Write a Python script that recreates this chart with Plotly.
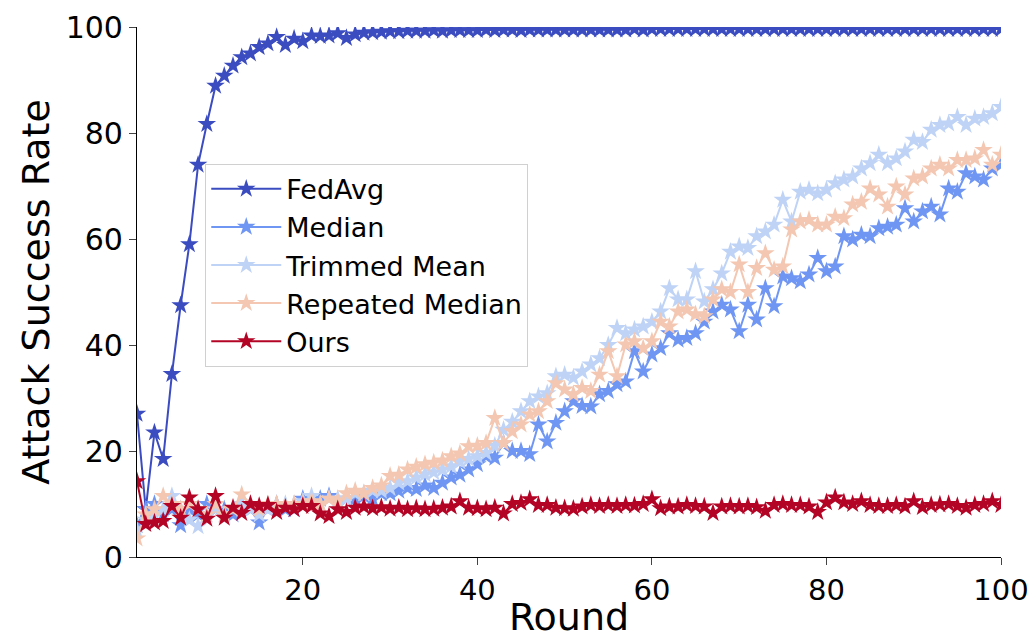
import plotly.graph_objects as go

rounds = list(range(1, 101))

fedavg = [27, 9, 23.5, 18.5, 34.5, 47.5, 59, 74, 81.7, 88.9,
          90.8, 92.7, 94.3, 95, 96.2, 96.9, 98.1, 96.6, 97.8, 97.3,
          98.4, 98.3, 98.4, 98.8, 97.9, 98.6, 98.9, 99.0, 99.1, 99.2,
          99.2, 99.3, 99.3, 99.3, 99.4, 99.3, 99.4, 99.4, 99.4, 99.4,
          99.5, 99.4, 99.5, 99.5, 99.4, 99.5, 99.5, 99.5, 99.5, 99.5,
          99.5, 99.5, 99.5, 99.5, 99.5, 99.5, 99.5, 99.6, 99.5, 99.6,
          99.6, 99.6, 99.6, 99.6, 99.6, 99.6, 99.6, 99.6, 99.6, 99.6,
          99.6, 99.6, 99.6, 99.6, 99.6, 99.6, 99.6, 99.6, 99.6, 99.6,
          99.6, 99.6, 99.6, 99.6, 99.6, 99.6, 99.6, 99.6, 99.6, 99.6,
          99.6, 99.6, 99.6, 99.6, 99.6, 99.6, 99.6, 99.6, 99.6, 99.6]

median = [6, 9, 10, 8, 9, 6, 9, 8, 10, 9,
          9, 8, 10, 9, 6.5, 9, 10, 9, 9, 11,
          10, 11, 11.5, 10.5, 11, 11, 11.5, 11, 12, 12,
          12.5, 13, 12.8, 13.5, 13, 14, 15, 15.5, 16.5, 17.5,
          19, 18.7, 21.5, 20, 20, 19.4, 25, 21.8, 25.3, 27.5,
          29.4, 28.5, 28.4, 30.7, 31.3, 32.6, 33.1, 38.8, 35, 38.2,
          39.4, 42.2, 41, 41.3, 42.2, 44.4, 46.3, 47.6, 46.7, 42.6,
          47.6, 44.8, 50.7, 47.3, 52.9, 52.6, 52, 53.3, 56.4, 53.9,
          54.8, 60.5, 59.9, 60.8, 60.5, 62, 62.3, 62.7, 65.8, 63.3,
          65.2, 66.1, 64.6, 69.5, 68.9, 72.4, 71.8, 71.2, 73.3, 74]

trimmed_mean = [5, 7, 8, 9, 11.5, 9, 7, 5.8, 8, 9,
                8, 9, 10, 9, 8, 9, 10, 10, 10, 10.5,
                11.5, 10, 11, 11, 11, 12, 12, 12.5, 12.5, 13,
                14, 14.3, 15, 15.6, 16, 16.5, 17.1, 18, 18.5, 19,
                19.6, 21, 24, 25.5, 27.5, 29.4, 30.3, 30.9, 34.1, 34.4,
                33.8, 35, 36.3, 37.5, 40, 43.2, 42.2, 42.9, 43.5, 44.4,
                46.3, 50.7, 48.6, 48.6, 53.9, 48.2, 50.5, 53.5, 57.6, 58.6,
                58.3, 60.5, 61.4, 62.7, 67.4, 63.3, 68.9, 69.3, 68.6, 69.3,
                70.5, 71.2, 71.8, 73.3, 74.3, 75.9, 74.3, 75.2, 76.5, 78.7,
                78.3, 80.6, 81.5, 81.8, 83, 81.5, 82.7, 83, 83.7, 84.9]

repeated_median = [3.5, 8, 9, 11.5, 10, 9, 10, 9, 8, 10,
                   8, 9, 11.8, 10, 9, 10, 10, 9.5, 10, 10,
                   10.5, 10, 11, 10.5, 12, 12.5, 12, 13, 13.5, 15.3,
                   15.5, 16.5, 17, 17.5, 17.8, 18.2, 19, 19.5, 20.9, 21,
                   21.5, 26.2, 21.5, 23.7, 25, 26.9, 27.5, 29.4, 32.8, 31.6,
                   30.7, 31.9, 31.3, 34.4, 38.8, 34.1, 40.1, 40.7, 39.4, 40.7,
                   44.4, 43.5, 46.3, 46.7, 45.8, 45.4, 48.6, 50.5, 50, 55.2,
                   50, 54.5, 57.3, 54.2, 54.8, 61.8, 63.3, 63.6, 62.7, 62.7,
                   64.2, 63.9, 66.5, 67, 69.5, 68.4, 66.1, 69.9, 68.4, 71.4,
                   71.8, 73.3, 74, 73.3, 74.9, 74.9, 75.2, 76.8, 74, 75.9]

ours = [14.3, 6.2, 6.5, 6.8, 9.6, 7.4, 11.2, 9, 7.2, 11.5,
        7.4, 9.3, 8.3, 10, 9.6, 9.8, 8.5, 9.3, 9, 9.6,
        9.6, 8.2, 7.7, 9, 8.5, 9.3, 9.5, 9.2, 9.4, 9.1,
        9.3, 9.0, 9.2, 9.0, 9.1, 9.3, 9.5, 10.5, 9.3, 9.2,
        9.0, 9.3, 8.2, 10, 10.2, 10.9, 9.8, 9.8, 9.3, 9.2,
        9.1, 9.5, 9.8, 9.6, 9.8, 9.6, 9.8, 9.7, 10, 10.9,
        9.2, 9.5, 9.5, 9.8, 9.6, 9.5, 8.3, 9.5, 9.6, 9.5,
        9.6, 9.4, 8.7, 9.8, 10, 9.8, 9.8, 9.5, 8.5, 10.3,
        11.2, 10.3, 10, 10.5, 9.8, 9.6, 9.6, 9.8, 9.5, 10.5,
        9.4, 9.8, 9.9, 10, 9.6, 9.3, 9.8, 10, 10.5, 9.8]

series_names = ["FedAvg", "Median", "Trimmed Mean", "Repeated Median", "Ours"]
series_values = [fedavg, median, trimmed_mean, repeated_median, ours]
series_colors = ["#3b4cc0", "#7096f3", "#bfd3f6", "#f3c7b1", "#b40426"]

x_ticks = [20, 40, 60, 80, 100]
y_ticks = [0, 20, 40, 60, 80, 100]

FONT = "DejaVu Sans"

fig = go.Figure()
for name, vals, col in zip(series_names, series_values, series_colors):
    fig.add_trace(go.Scatter(
        x=rounds, y=vals, name=name, mode="lines+markers",
        line=dict(color=col, width=2),
        marker=dict(symbol="star", size=14, color=col, line=dict(width=0)),
    ))

fig.update_layout(
    width=1036, height=639,
    margin=dict(l=137, r=35, t=27, b=82),
    paper_bgcolor="white", plot_bgcolor="white",
    font=dict(family=FONT, color="black"),
    legend=dict(
        x=0.079, y=0.742, xanchor="left", yanchor="top",
        bgcolor="white", bordercolor="#d0d0d0", borderwidth=1,
        font=dict(family=FONT, size=27, color="black"),
        itemwidth=70,
    ),
    showlegend=True,
)
fig.update_xaxes(
    range=[1, 100], tickvals=x_ticks, ticks="outside", ticklen=7, tickwidth=1.2,
    showline=True, linecolor="black", linewidth=1.2, mirror=False,
    showgrid=False, zeroline=False, automargin=False,
    tickfont=dict(family=FONT, size=29, color="black"),
    title=dict(text="Round", font=dict(family=FONT, size=38, color="black"), standoff=11),
)
fig.update_yaxes(
    range=[0, 100], tickvals=y_ticks, ticks="outside", ticklen=7, tickwidth=1.2,
    showline=True, linecolor="black", linewidth=1.2, mirror=False,
    showgrid=False, zeroline=False, automargin=False,
    tickfont=dict(family=FONT, size=30, color="black"),
    title=dict(text="Attack Success Rate", font=dict(family=FONT, size=38, color="black"), standoff=4),
)

fig.write_html("out.html")
